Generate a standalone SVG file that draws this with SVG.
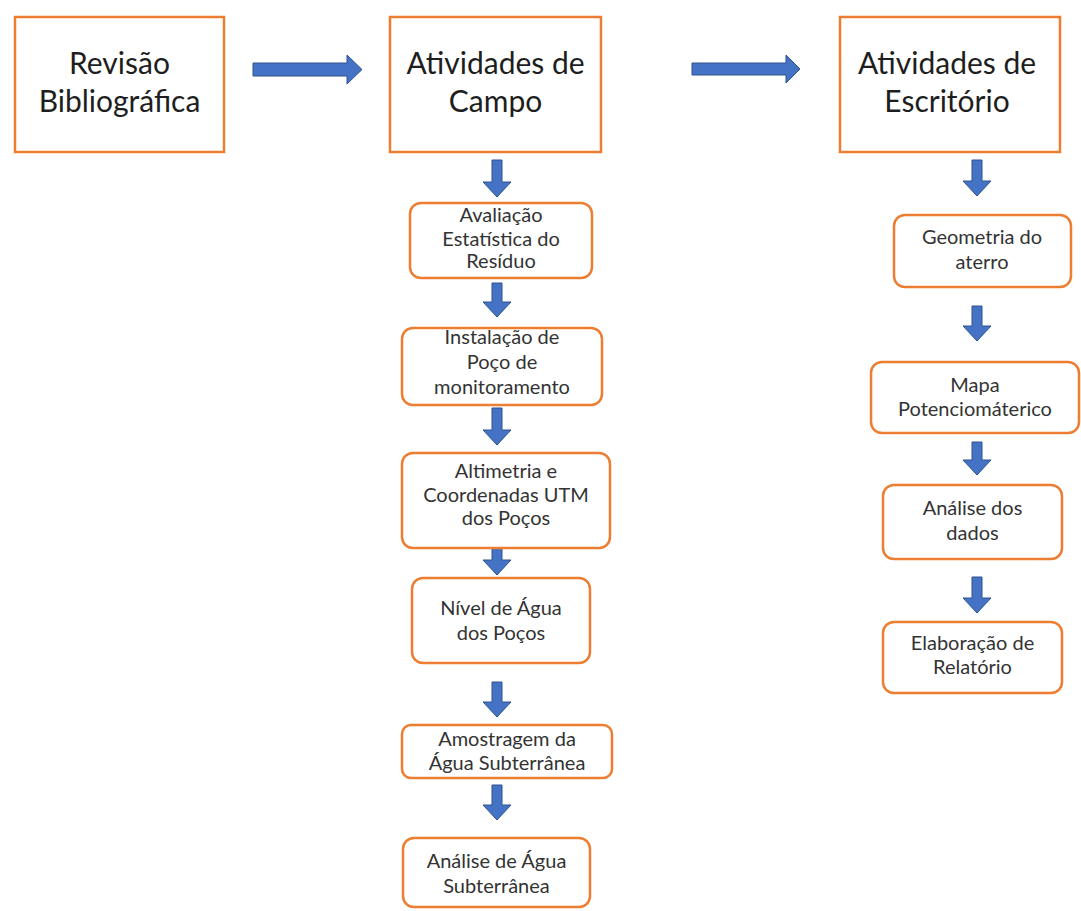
<svg xmlns="http://www.w3.org/2000/svg" width="1081" height="911" viewBox="0 0 1081 911">
<style>
.big{fill:#fff;stroke:#ED7D31;stroke-width:2.5}
.sm{fill:#fff;stroke:#ED7D31;stroke-width:2.5}
.tb{font-family:Lato,"Liberation Sans",sans-serif;font-size:30px;fill:#1e1e1e;text-anchor:middle}
.ts{font-family:Lato,"Liberation Sans",sans-serif;font-size:20px;fill:#333;text-anchor:middle}
.arr{fill:#4472C4;stroke:#2F528F;stroke-width:1}
</style>
<rect width="1081" height="911" fill="#fff"/>
<g id="connectors">
<path class="arr" d="M253,63 H347 V55 L362,69.5 L347,84 V76 H253 Z"/>
<path class="arr" d="M692,63 H786 V55 L800,69 L786,83 V75 H692 Z"/>
<path class="arr" d="M492,160 H502 V182 H511 L497,197 L483,182 H492 Z"/>
<path class="arr" d="M492,283 H502 V302 H511 L497,317 L483,302 H492 Z"/>
<path class="arr" d="M492,408 H502 V430 H511 L497,445 L483,430 H492 Z"/>
<path class="arr" d="M492,545 H502 V560 H511 L497,575 L483,560 H492 Z"/>
<path class="arr" d="M492,682 H502 V702 H511 L497,717 L483,702 H492 Z"/>
<path class="arr" d="M492,785 H502 V805 H511 L497,820 L483,805 H492 Z"/>
<path class="arr" d="M972,160 H982 V181 H991 L977,196 L963,181 H972 Z"/>
<path class="arr" d="M972,306 H982 V326 H991 L977,341 L963,326 H972 Z"/>
<path class="arr" d="M972,442 H982 V460 H991 L977,475 L963,460 H972 Z"/>
<path class="arr" d="M972,577 H982 V598 H991 L977,613 L963,598 H972 Z"/>
</g>
<g id="revisao">
<rect class="big" x="15" y="17" width="209" height="135"/>
<text class="tb" x="119.5" y="74">Revisão</text>
<text class="tb" x="119.5" y="112">Bibliográfica</text>
</g>
<g id="campo">
<rect class="big" x="390" y="17" width="211" height="135"/>
<text class="tb" x="495.5" y="74">Atividades de</text>
<text class="tb" x="495.5" y="112">Campo</text>
</g>
<g id="escritorio">
<rect class="big" x="840" y="17" width="220" height="135"/>
<text class="tb" x="947" y="74">Atividades de</text>
<text class="tb" x="947" y="112">Escritório</text>
</g>
<g id="avaliacao">
<rect class="sm" x="410" y="203" width="182" height="75" rx="11"/>
<text class="ts" x="501" y="222">Avaliação</text>
<text class="ts" x="501" y="246">Estatística do</text>
<text class="ts" x="501" y="268">Resíduo</text>
</g>
<g id="instalacao">
<rect class="sm" x="402" y="328" width="200" height="77" rx="11"/>
<text class="ts" x="502" y="344">Instalação de</text>
<text class="ts" x="502" y="369">Poço de</text>
<text class="ts" x="502" y="394">monitoramento</text>
</g>
<g id="altimetria">
<rect class="sm" x="402" y="453" width="208" height="95" rx="11"/>
<text class="ts" x="506" y="478">Altimetria e</text>
<text class="ts" x="506" y="502">Coordenadas UTM</text>
<text class="ts" x="506" y="525">dos Poços</text>
</g>
<g id="nivel">
<rect class="sm" x="412" y="578" width="178" height="85" rx="11"/>
<text class="ts" x="501" y="615">Nível de Água</text>
<text class="ts" x="501" y="640">dos Poços</text>
</g>
<g id="amostragem">
<rect class="sm" x="402" y="725" width="210" height="53" rx="9"/>
<text class="ts" x="507" y="746">Amostragem da</text>
<text class="ts" x="507" y="770">Água Subterrânea</text>
</g>
<g id="analise-agua">
<rect class="sm" x="403" y="838" width="187" height="69" rx="11"/>
<text class="ts" x="496.5" y="868">Análise de Água</text>
<text class="ts" x="496.5" y="893">Subterrânea</text>
</g>
<g id="geometria">
<rect class="sm" x="894" y="215" width="177" height="72" rx="11"/>
<text class="ts" x="982" y="244">Geometria do</text>
<text class="ts" x="982" y="269">aterro</text>
</g>
<g id="mapa">
<rect class="sm" x="871" y="362" width="208" height="71" rx="11"/>
<text class="ts" x="975" y="392">Mapa</text>
<text class="ts" x="975" y="416">Potenciomáterico</text>
</g>
<g id="analise-dados">
<rect class="sm" x="883" y="485" width="179" height="74" rx="11"/>
<text class="ts" x="972.5" y="515">Análise dos</text>
<text class="ts" x="972.5" y="540">dados</text>
</g>
<g id="elaboracao">
<rect class="sm" x="883" y="622" width="179" height="71" rx="11"/>
<text class="ts" x="972.5" y="650">Elaboração de</text>
<text class="ts" x="972.5" y="674">Relatório</text>
</g>
</svg>
